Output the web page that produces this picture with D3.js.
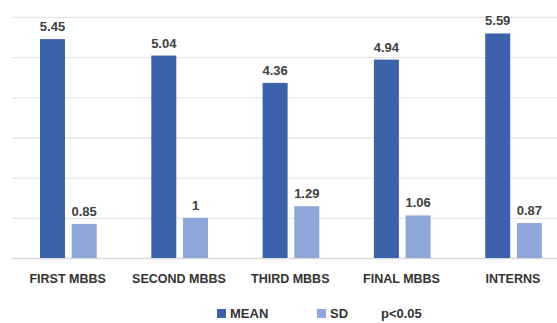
<!DOCTYPE html>
<html><head><meta charset="utf-8">
<script src="https://cdn.jsdelivr.net/npm/d3@7"></script>
<style>body{margin:0;background:#fff}svg{display:block}text{font-family:"Liberation Sans",Arial,sans-serif;font-weight:bold}</style>
</head><body>
<svg id="c" width="557" height="323"></svg>
<script>
const categories = ["FIRST MBBS","SECOND MBBS","THIRD MBBS","FINAL MBBS","INTERNS"];
const meanValues = [5.45,5.04,4.36,4.94,5.59];
const sdValues = [0.85,1,1.29,1.06,0.87];
const seriesNames = ["MEAN","SD"];
const yTicks = [0,1,2,3,4,5,6];
const note = "p<0.05";
const colors = {MEAN:"#3D62AC", SD:"#8EA6D8"};

const svg = d3.select("#c");
const x = d3.scaleBand().domain(categories).range([12, 568.5]).padding(0);
const xs = d3.scaleBand().domain(seriesNames).range([28, 84.7]).paddingInner(0.211).paddingOuter(0);
const y = d3.scaleLinear().domain([0,6]).range([258,17]);

svg.append("g").selectAll("line").data(yTicks).join("line")
  .attr("x1",12).attr("x2",557)
  .attr("y1",d=>y(d)+0.5).attr("y2",d=>y(d)+0.5)
  .attr("stroke",d=>d===0?"#D9D9D9":"#E6E6E6").attr("stroke-width",1.3);

const data = [];
categories.forEach((c,i)=>{
  data.push({c, s:"MEAN", v:meanValues[i]});
  data.push({c, s:"SD", v:sdValues[i]});
});

svg.append("g").selectAll("rect").data(data).join("rect")
  .attr("x",d=>x(d.c)+xs(d.s)).attr("width",xs.bandwidth())
  .attr("y",d=>y(d.v)).attr("height",d=>y(0)-y(d.v))
  .attr("fill",d=>colors[d.s]);

svg.append("g").selectAll("text").data(data).join("text")
  .attr("x",d=>x(d.c)+xs(d.s)+xs.bandwidth()/2).attr("y",d=>y(d.v)-8)
  .attr("text-anchor","middle").attr("font-size","13px").attr("fill","#404040")
  .text(d=>String(d.v));

svg.append("g").selectAll("text").data(categories).join("text")
  .attr("x",d=>x(d)+x.bandwidth()/2).attr("y",283)
  .attr("text-anchor","middle").attr("font-size","12.5px").attr("fill","#333")
  .text(d=>d);

const lg = svg.append("g");
const legendX = [217, 317];
seriesNames.forEach((s,i)=>{
  lg.append("rect").attr("x",legendX[i]).attr("y",309).attr("width",9).attr("height",9).attr("fill",colors[s]);
  lg.append("text").attr("x",legendX[i]+13).attr("y",318).attr("font-size","13px").attr("fill","#333").text(s);
});
lg.append("text").attr("x",381).attr("y",318).attr("font-size","13px").attr("fill","#333").text(note);
</script>
</body></html>
